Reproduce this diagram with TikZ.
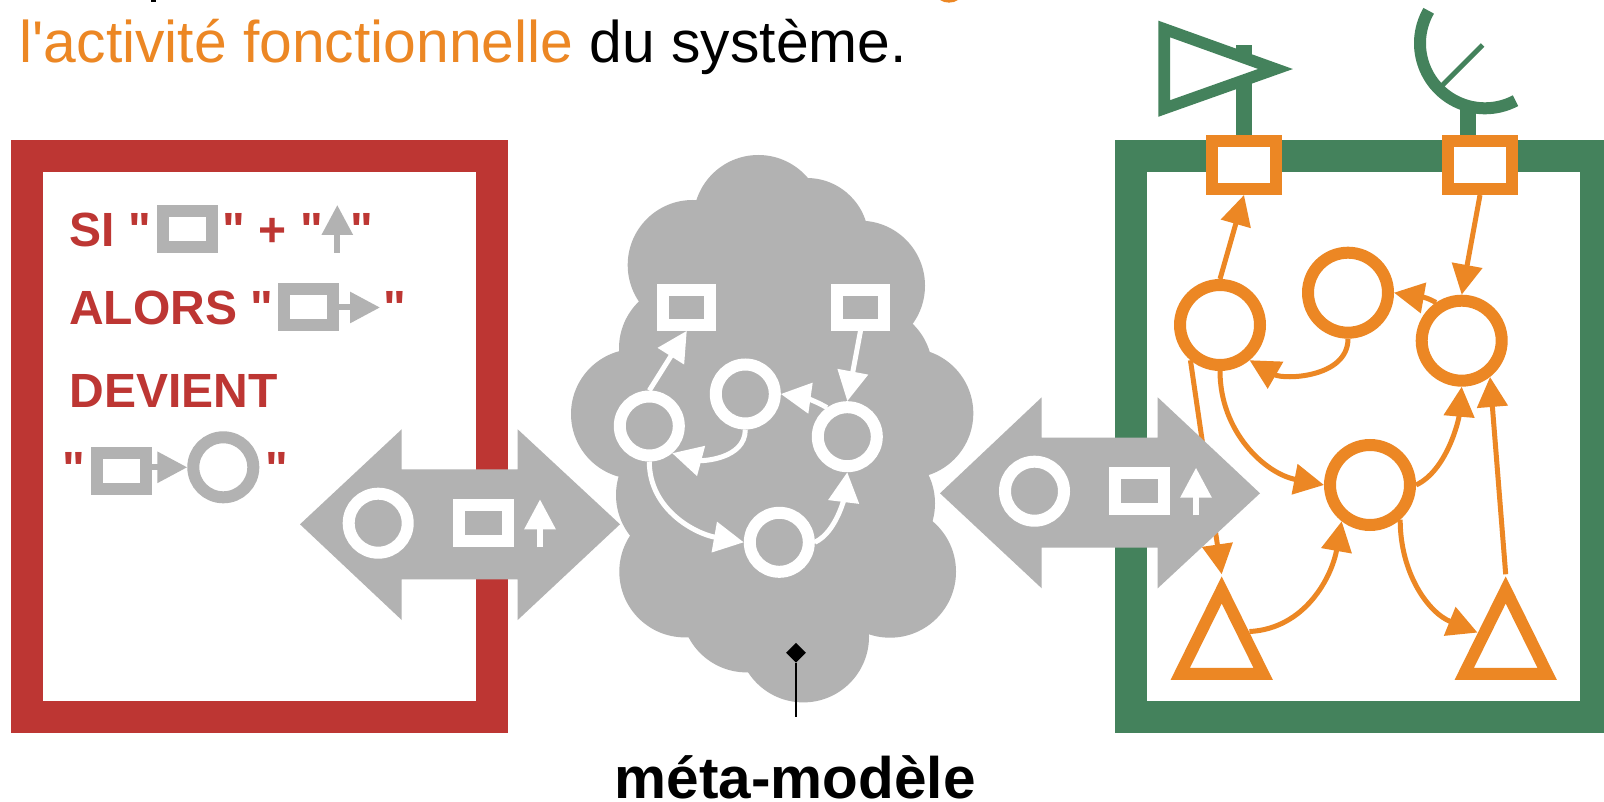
\documentclass[tikz,border=0pt]{standalone}
\usepackage{fontspec}
\newfontfamily\slidefont{Liberation Sans}
\usetikzlibrary{arrows.meta,shapes.geometric}
\definecolor{systorange}{HTML}{EC8724}
\definecolor{systgreen}{HTML}{44825C}
\definecolor{rulered}{HTML}{BD3633}
\definecolor{metagrey}{HTML}{B2B2B2}
\begin{document}
\begin{tikzpicture}[x=1pt,y=-1pt,
state/.style={shape=circle,draw=systorange,line width=12pt,fill=white,minimum size=80pt,inner sep=0pt},
port/.style={shape=rectangle,draw=systorange,line width=12pt,fill=white,minimum width=64pt,minimum height=48pt,inner sep=0pt},
gate/.style={shape=isosceles triangle,shape border rotate=90,isosceles triangle stretches,draw=systorange,line width=12pt,fill=white,minimum width=83pt,minimum height=84pt,inner sep=0pt,anchor=apex},
haslink/.style={draw=systorange,line width=5pt,-{Triangle[length=30pt,width=30pt]}},
metastate/.style={shape=circle,draw=white,line width=12pt,minimum size=59pt,inner sep=0pt},
metaport/.style={shape=rectangle,draw=white,line width=12pt,minimum width=47pt,minimum height=35pt,inner sep=0pt},
metalink/.style={draw=white,line width=5pt,-{Triangle[length=30pt,width=30pt]}},
rulestate/.style={shape=circle,draw=metagrey,line width=12pt,minimum size=60pt,inner sep=0pt},
ruleport/.style={shape=rectangle,draw=metagrey,line width=12pt,minimum width=48.5pt,minimum height=36pt,inner sep=0pt},
rulelink/.style={draw=metagrey,line width=6pt,-{Triangle[length=30pt,width=30pt]}},
ruletext/.style={anchor=base west,inner sep=0pt,text=rulered,font=\slidefont\fontsize{48pt}{50pt}\selectfont\bfseries},
bigarrow/.style={fill=metagrey},
stem/.style={draw=systgreen,line width=16pt}]
\useasboundingbox (0,0) rectangle (1604,802);
\clip (0,0) rectangle (1604,802);
\fill[white] (0,0) rectangle (1604,802);
% texte du haut
\fill[black] (151,0) rectangle (156,2);
\fill[systorange] (940,0) .. controls (945,3.5) and (953,3.5) .. (958,0) -- cycle;
\node[anchor=base west,inner sep=0pt,font=\slidefont\fontsize{58.8pt}{62pt}\selectfont] (title) at (19.5,62.5) {\textcolor{systorange}{l'activité fonctionnelle} du système.};
% cadres
\draw[rulered,line width=32pt] (27,156) rectangle (492,717);
\draw[systgreen,line width=32pt] (1131,156) rectangle (1596,717);
% regle
\node[ruletext] (si) at (69.5,246.7) {SI "};
\node[ruleport] (rulea) at (187.5,228.7) {};
\node[ruletext] (plus) at (222.6,246.7) {" + "};
\coordinate (upstart) at (337.3,252.7);
\coordinate (upend) at (337.3,205);
\draw[rulelink] (upstart) -- (upend);
\node[ruletext] (siend) at (350.6,246.7) {"};
\node[ruletext] (alors) at (69,324.3) {ALORS "};
\node[ruleport] (ruleb) at (308.3,307.5) {};
\coordinate (rightend) at (380,307.5);
\draw[rulelink] (ruleb.east) -- (rightend);
\node[ruletext] (alorsend) at (383,324.3) {"};
\node[ruletext] (devient) at (69.5,407.7) {DEVIENT};
\node[ruletext] (quote) at (62.6,485) {"};
\node[ruleport] (rulec) at (121.7,471.2) {};
\node[rulestate] (ruled) at (223.3,467.3) {};
\draw[rulelink] (rulec.east |- ruled.west) -- (ruled.west);
\node[ruletext] (quoteend) at (265.3,485) {"};
% nuage
\fill[metagrey] (758,220) -- (807,240) -- (860,286) -- (868,370) -- (908,413) -- (870,503) -- (890,572) -- (803,637) -- (747,607) -- (685,572) -- (682,495) -- (636,414) -- (684,348) -- (693,265) -- cycle;
\foreach \cx/\cy/\cr in {758.3/220/65,806.7/240/62,860/285.7/65,868.3/370/64,908.3/413.3/65,870/503.3/65,890/571.7/66,803.3/636.7/65.7,746.7/606.7/65.7,685/571.7/65.7,681.7/495/65.7,636/414/65,684/348.3/65,692.7/265/65}
  \fill[metagrey] (\cx,\cy) circle[radius=\cr pt];
\node[metaport] (ms1) at (686.8,307.3) {};
\node[metaport] (ms2) at (860.5,307.3) {};
\node[metastate] (md1) at (649.3,426) {};
\node[metastate] (md2) at (745.3,394) {};
\node[metastate] (md3) at (847.3,436.7) {};
\node[metastate] (md4) at (779.3,542.3) {};
\draw[metalink] (md1.north) -- (ms1.south);
\draw[metalink] (ms2.south) -- (md3.north);
\draw[metalink] (md3.125) to[out=150,in=-8] (md2.east);
\draw[metalink] (md2.south) to[out=-90,in=-15] (md1.-50);
\draw[metalink] (md1.south) to[out=-90,in=170] (md4.west);
\draw[metalink] (md4.east) to[out=25,in=-97,looseness=0.8] (md3.south);
\node[shape=diamond,fill=black,minimum size=20pt,inner sep=0pt] (pin) at (796,652.7) {};
\coordinate (pinend) at (796,717.3);
\draw[line width=2pt] (pin) -- (pinend);
\node[anchor=base,inner sep=0pt,font=\slidefont\fontsize{58.5pt}{60pt}\selectfont\bfseries] (meta) at (795.3,798) {méta-modèle};
% systeme
\coordinate (act) at (1244,165);
\coordinate (sen) at (1468,165);
\draw[stem] (act) -- (1244,45);
\draw[stem] (sen) -- (1468,105);
\draw[systgreen,line width=11.7pt,fill=white,miter limit=10] (1164.2,29) -- (1275.5,69) -- (1164.2,108.5) -- cycle;
\draw[systgreen,line width=12pt] (1428.7,10.8) arc[start angle=150,end angle=298,radius=65pt];
\draw[systgreen,line width=5pt] (1482.7,45) -- (1441.7,86);
\node[port] (p1) at (1244,165) {};
\node[port] (p2) at (1480,165) {};
\node[state] (c1) at (1220,325) {};
\node[state] (c2) at (1348,292.7) {};
\node[state] (c3) at (1461.7,340.7) {};
\node[state] (c4) at (1370,485) {};
\node[gate] (t1) at (1221.7,574.3) {};
\node[gate] (t2) at (1505.7,574.3) {};
\draw[haslink] (c1.north) -- (p1.south);
\draw[haslink] (p2.south) -- (c3.north);
\draw[haslink] (c3.124) to[out=150,in=-10] (c2.east);
\draw[haslink] (c2.south) to[out=-90,in=-30] (c1.-50);
\draw[haslink] (c1.south) to[out=-90,in=169] (c4.west);
\draw[haslink] (c1.-130) -- (t1.apex);
\draw[haslink] (c4.east) to[out=25,in=-95,looseness=0.8] (c3.south);
\draw[haslink] (t2.apex) -- (c3.-52);
\draw[haslink] (c4.-49) to[out=-90,in=158] (t2.151);
\draw[haslink] (t1.31) to[out=3,in=-100] (c4.-128);
% fleches doubles
\fill[bigarrow] (300,524.3) -- (401.7,429.3) -- (401.7,469.3) -- (517.7,469.3) -- (517.7,429.3) -- (620,524.3) -- (517.7,620) -- (517.7,579.3) -- (401.7,579.3) -- (401.7,620) -- cycle;
\node[metastate] (la) at (378.2,523.2) {};
\node[metaport,minimum width=48.5pt,minimum height=36pt] (lb) at (483.5,523.3) {};
\coordinate (lstart) at (540,547.3);
\coordinate (lend) at (540,499.3);
\draw[metalink,line width=6pt] (lstart) -- (lend);
\fill[bigarrow] (940,493.3) -- (1041.7,397.3) -- (1041.7,437.7) -- (1157.7,437.7) -- (1157.7,397.3) -- (1260,493.3) -- (1157.7,588.3) -- (1157.7,547.7) -- (1041.7,547.7) -- (1041.7,588.3) -- cycle;
\node[metastate] (ra) at (1034.5,491.2) {};
\node[metaport,minimum width=48.5pt,minimum height=36pt] (rb) at (1139.5,491.3) {};
\coordinate (rstart) at (1196,515.3);
\coordinate (rend) at (1196,467.7);
\draw[metalink,line width=6pt] (rstart) -- (rend);
\end{tikzpicture}
\end{document}
